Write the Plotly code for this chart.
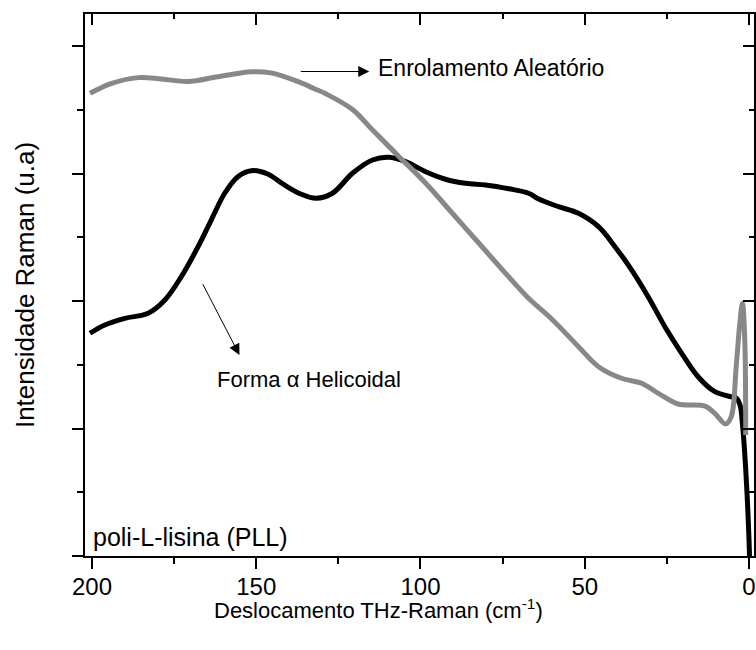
import plotly.graph_objects as go

# Random coil (gray) spectrum
gray_x = [200.6, 194.0, 185.9, 178.8, 170.8, 161.7, 151.5, 145.5, 137.4, 132.3, 128.8, 120.7,
          114.6, 106.5, 98.4, 90.3, 82.2, 74.1, 67.1, 60.0, 51.9, 45.8, 38.8, 32.7, 27.6, 21.6,
          13.4, 10.4, 7.1, 5.4, 3.9, 2.8, 2.0, 1.3, 1.0]
gray_y = [3.629, 3.707, 3.752, 3.741, 3.722, 3.759, 3.798, 3.789, 3.722, 3.665, 3.625, 3.502,
          3.341, 3.132, 2.923, 2.688, 2.453, 2.217, 2.021, 1.857, 1.642, 1.485, 1.394, 1.355,
          1.276, 1.192, 1.176, 1.119, 1.035, 1.093, 1.485, 1.825, 1.982, 1.700, 0.950]

# Alpha helix (black) spectrum
black_x = [200.6, 196.1, 190.0, 182.9, 177.8, 172.8, 167.7, 163.7, 159.6, 155.6, 151.5, 146.5,
           141.4, 136.4, 131.8, 126.8, 120.7, 114.6, 109.6, 104.5, 98.4, 92.4, 86.3, 80.2, 73.1,
           67.1, 64.0, 58.0, 51.9, 45.8, 40.8, 35.7, 30.7, 25.6, 20.5, 15.5, 10.4, 5.4, 3.9,
           2.73, 1.97, 1.37, 0.82, 0.36, 0.0, -0.30]
black_y = [1.747, 1.812, 1.864, 1.904, 2.008, 2.191, 2.426, 2.635, 2.845, 2.975, 3.022, 2.996,
           2.910, 2.839, 2.806, 2.845, 3.002, 3.106, 3.127, 3.093, 3.014, 2.955, 2.923, 2.910,
           2.880, 2.845, 2.800, 2.740, 2.688, 2.583, 2.426, 2.243, 2.034, 1.798, 1.590, 1.406,
           1.289, 1.249, 1.240, 1.184, 1.027, 0.831, 0.596, 0.361, 0.125, -0.110]

x_tickvals = [200, 150, 100, 50, 0]
x_ticktext = ["200", "150", "100", "50", "0"]
x_minor = [175, 125, 75, 25]

FONT = "Arial, Liberation Sans, sans-serif"
XR = [202.12, -1.52]
YR = [0, 4.251]

fig = go.Figure()
fig.add_trace(go.Scatter(x=black_x, y=black_y, mode="lines",
                         line=dict(color="#000000", width=5, shape="spline", smoothing=1.0),
                         xaxis="x", yaxis="y", showlegend=False, hoverinfo="skip"))
fig.add_trace(go.Scatter(x=gray_x, y=gray_y, mode="lines",
                         line=dict(color="#888888", width=5, shape="spline", smoothing=1.0),
                         xaxis="x2", yaxis="y2", showlegend=False, hoverinfo="skip"))

fig.update_layout(
    width=756, height=650,
    margin=dict(l=85, r=0, t=14, b=94),
    paper_bgcolor="white", plot_bgcolor="white",
    font=dict(family=FONT, color="black", size=24),
    xaxis=dict(range=XR, showgrid=False, zeroline=False, showline=True, linecolor="black",
               linewidth=2, ticks="outside", ticklen=11, tickwidth=2, tickcolor="black",
               tickvals=x_tickvals, ticktext=x_ticktext, tickfont=dict(size=24),
               ticklabeloverflow="allow", ticklabelstandoff=-3,
               minor=dict(tickvals=x_minor, ticks="outside", ticklen=6,
                          tickwidth=2, tickcolor="black")),
    xaxis2=dict(range=XR, overlaying="x", side="top", showgrid=False, zeroline=False,
                showline=True, linecolor="black", linewidth=2, ticks="inside", ticklen=11,
                tickwidth=2, tickcolor="black", tickvals=x_tickvals, showticklabels=False,
                minor=dict(tickvals=x_minor, ticks="inside", ticklen=5,
                           tickwidth=2, tickcolor="black")),
    yaxis=dict(range=YR, showgrid=False, zeroline=False, showline=True, linecolor="black",
               linewidth=2, ticks="outside", ticklen=11, tickwidth=2, tickcolor="black",
               tick0=0, dtick=1, showticklabels=False,
               minor=dict(tick0=0, dtick=0.5, ticks="outside", ticklen=6, tickwidth=2,
                          tickcolor="black"),
               title=dict(text="Intensidade Raman (u.a)", font=dict(size=26), standoff=30)),
    yaxis2=dict(range=YR, overlaying="y", side="right", showgrid=False, zeroline=False,
                showline=True, linecolor="black", linewidth=2, ticks="inside", ticklen=11,
                tickwidth=2, tickcolor="black", tick0=0, dtick=1, showticklabels=False,
                minor=dict(tick0=0, dtick=0.5, ticks="inside", ticklen=5, tickwidth=2,
                           tickcolor="black")),
)

# X axis title
fig.add_annotation(x=(379 - 85) / 671, y=-(609 - 556) / 542, xref="paper", yref="paper",
                   text="Deslocamento THz-Raman (cm<sup>-1</sup>)", showarrow=False,
                   xanchor="center", yanchor="middle", font=dict(size=22))

# Labels
fig.add_annotation(x=113.5, y=3.827, xref="x", yref="y", text="Enrolamento Aleatório",
                   showarrow=False, xanchor="left", yanchor="middle", font=dict(size=23))
fig.add_annotation(x=115.6, y=3.80, ax=136.9, ay=3.80, xref="x", yref="y", axref="x", ayref="y",
                   text="", showarrow=True, arrowhead=2, arrowsize=2.2, arrowwidth=1,
                   arrowcolor="black", standoff=0)
fig.add_annotation(x=162.6, y=1.388, xref="x", yref="y", text="Forma α Helicoidal",
                   showarrow=False, xanchor="left", yanchor="middle", font=dict(size=22))
fig.add_annotation(x=155.1, y=1.576, ax=166.5, ay=2.144, xref="x", yref="y", axref="x", ayref="y",
                   text="", showarrow=True, arrowhead=2, arrowsize=2.2, arrowwidth=1,
                   arrowcolor="black", standoff=0)
fig.add_annotation(x=200.3, y=0.149, xref="x", yref="y", text="poli-L-lisina (PLL)",
                   showarrow=False, xanchor="left", yanchor="middle", font=dict(size=25))

fig.write_html("out.html")
